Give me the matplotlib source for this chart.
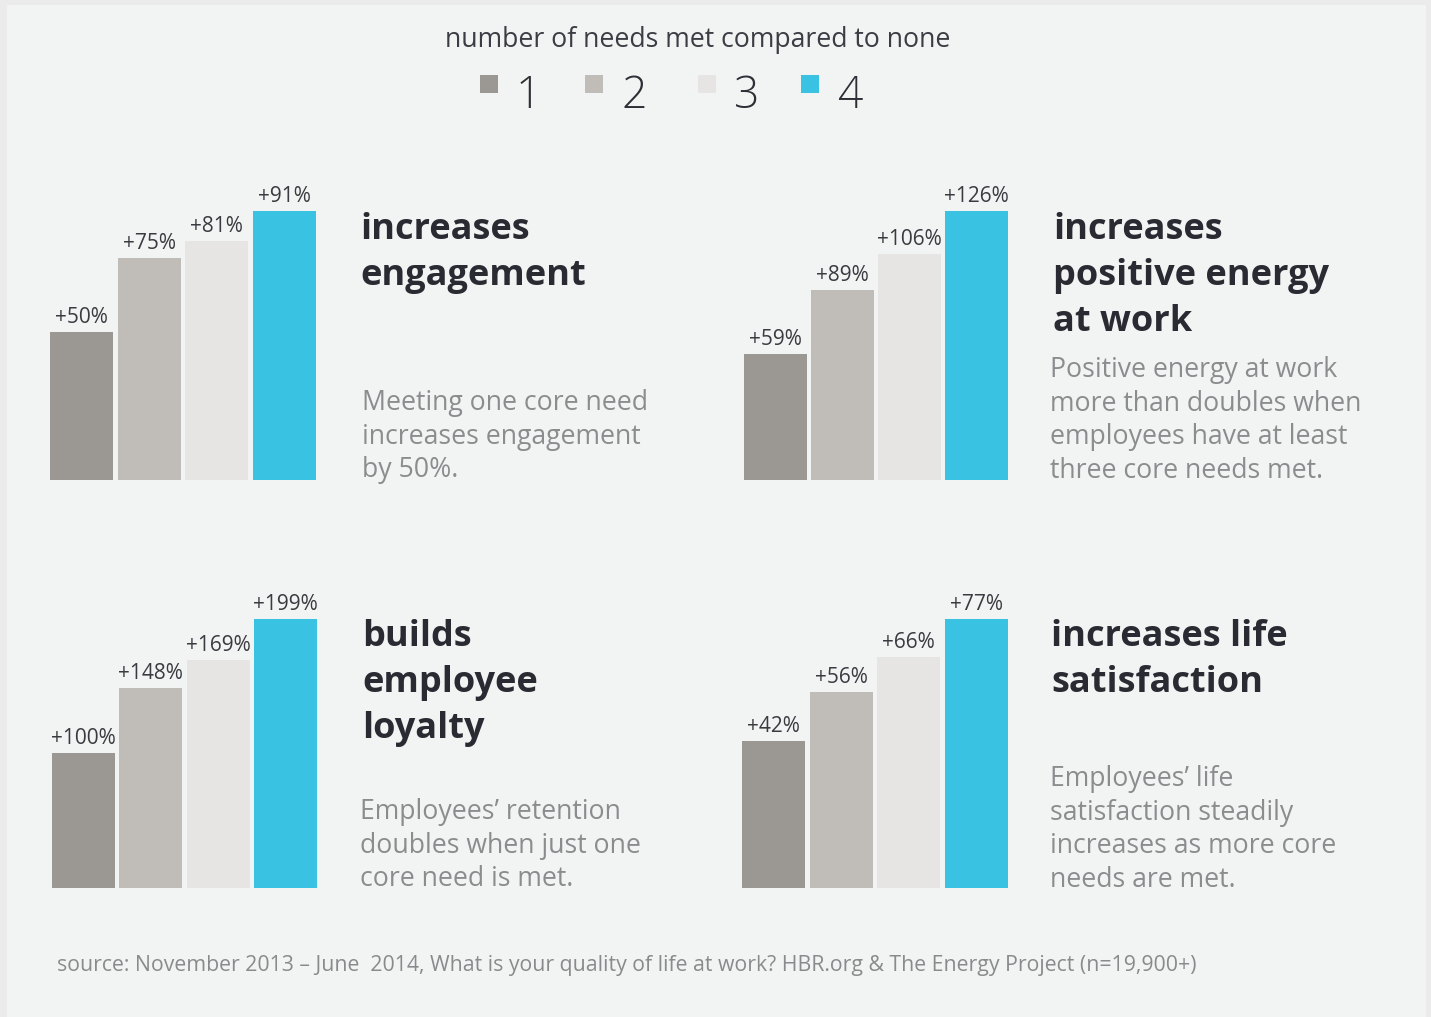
import matplotlib.pyplot as plt
from matplotlib.patches import Rectangle

plt.rcParams['font.family'] = ['Open Sans', 'DejaVu Sans']

W, H = 1431, 1017

# data
levels = ['1', '2', '3', '4']
colors = ['#9b9894', '#c0bcb8', '#e6e5e3', '#3ac2e2']
engagement = [50, 75, 81, 91]
positive_energy = [59, 89, 106, 126]
loyalty = [100, 148, 169, 199]
life_satisfaction = [42, 56, 66, 77]

headings = [
    ['increases', 'engagement'],
    ['increases', 'positive energy', 'at work'],
    ['builds', 'employee', 'loyalty'],
    ['increases life', 'satisfaction'],
]
descriptions = [
    ['Meeting one core need', 'increases engagement', 'by 50%.'],
    ['Positive energy at work', 'more than doubles when',
     'employees have at least', 'three core needs met.'],
    ['Employees\u2019 retention', 'doubles when just one', 'core need is met.'],
    ['Employees\u2019 life', 'satisfaction steadily',
     'increases as more core', 'needs are met.'],
]
source = ('source: November 2013 \u2013 June  2014, What is your quality of life at work? '
          'HBR.org & The Energy Project (n=19,900+)')


def fx(x):
    return x / W


def fy(y):
    return 1 - y / H


fig = plt.figure(figsize=(W / 100, H / 100), dpi=100, facecolor='#ebebeb')
fig.patches.append(Rectangle((fx(7), 0), fx(1426) - fx(7), fy(5),
                             transform=fig.transFigure, facecolor='#f2f4f3',
                             edgecolor='none', zorder=-5))

# legend
fig.text(fx(698), fy(40), 'number of needs met compared to none', ha='center',
         va='center', fontsize=19.2, color='#3c3c44')
sq_x = [480, 585, 698, 801]
for lx, lab, c in zip(sq_x, levels, colors):
    fig.patches.append(Rectangle((fx(lx), fy(93)), 18 / W, 18 / H,
                                 transform=fig.transFigure, facecolor=c,
                                 edgecolor='none', zorder=-1))
    fig.text(fx(lx + 36), fy(108), lab, ha='left', va='baseline',
             fontsize=32, color='#2e2e36', fontweight='light')

# panels: (left px, bottom px, right px, values, heading xy, desc xy)
panels = [
    (50, 480, 316, engagement, (360, 230), (362, 403)),
    (744, 480, 1008, positive_energy, (1053, 230), (1050, 370)),
    (52, 888, 317, loyalty, (362, 637), (360, 812)),
    (742, 888, 1008, life_satisfaction, (1051, 637), (1050, 779)),
]

for i, (l, b, r, vals, hxy, dxy) in enumerate(panels):
    ax = fig.add_axes([fx(l), fy(b), (r - l) / W, 269 / H])
    ax.bar(range(4), vals, width=0.94, color=colors)
    ax.set_xlim(-0.47, 3.47)
    ax.set_ylim(0, max(vals))
    ax.axis('off')
    for j, v in enumerate(vals):
        ax.annotate(f'+{v}%', (j, v), xytext=(0, 6.5), textcoords='offset points',
                    ha='center', va='baseline', fontsize=15, color='#3a3a40',
                    annotation_clip=False)
    for k, line in enumerate(headings[i]):
        fig.text(fx(hxy[0]), fy(hxy[1] + k * 46), line, ha='left', va='center',
                 fontsize=26, fontweight='bold', color='#2a2a32')
    for k, line in enumerate(descriptions[i]):
        fig.text(fx(dxy[0]), fy(dxy[1] + k * 33.7), line, ha='left', va='center',
                 fontsize=19.2, color='#8c8c8e')

fig.text(fx(57), fy(966), source, ha='left', va='center', fontsize=15.3,
         color='#8a8a8c')

fig.savefig('out.png', dpi=100, facecolor=fig.get_facecolor())
